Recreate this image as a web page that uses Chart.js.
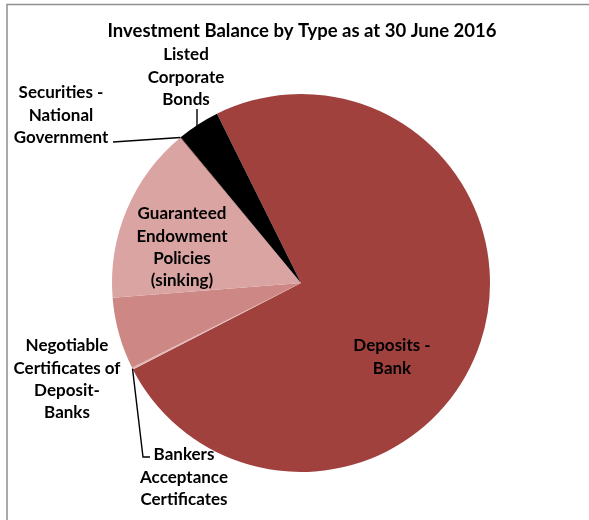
<!DOCTYPE html>
<html>
<head>
<meta charset="utf-8">
<script src="https://cdn.jsdelivr.net/npm/chart.js@4.4.0/dist/chart.umd.min.js"></script>
<style>
  html, body { margin: 0; padding: 0; background: #fff; }
  #wrap { position: relative; width: 589px; height: 520px; }
</style>
</head>
<body>
<div id="wrap"><canvas id="pie" width="589" height="520"></canvas></div>
<script>
// 数据（顺时针，从 Deposits - Bank 开始）
const chartTitle = 'Investment Balance by Type as at 30 June 2016';
const categories = [
    'Deposits - Bank',
    'Bankers Acceptance Certificates',
    'Negotiable Certificates of Deposit-Banks',
    'Guaranteed Endowment Policies (sinking)',
    'Securities - National Government',
    'Listed Corporate Bonds'
];
const balances = [74.7, 0.15, 6.15, 15.2, 0.05, 3.65];
const sliceColors = ['#A0413E', '#E2B9B7', '#CD8886', '#D9A4A2', '#8B3532', '#000000'];

// 标签文字（分行）与位置
const labelLines = [
    ['Deposits -', 'Bank'],
    ['Bankers', 'Acceptance', 'Certificates'],
    ['Negotiable', 'Certificates of', 'Deposit-', 'Banks'],
    ['Guaranteed', 'Endowment', 'Policies', '(sinking)'],
    ['Securities -', 'National', 'Government'],
    ['Listed', 'Corporate', 'Bonds']
];
const labelPos = [
    { x: 392, y: 346 },
    { x: 184, y: 455 },
    { x: 67, y: 346 },
    { x: 182, y: 214 },
    { x: 61, y: 93 },
    { x: 186, y: 55 }
];
// 引线：起点在标签旁，终点在扇区外缘
const leaders = {
    1: { pts: [{ x: 150, y: 457 }, { x: 143, y: 457 }] },
    4: { pts: [{ x: 113, y: 142 }] },
    5: { down: { x: 197, y: 109 } }
};

const FONT = 'bold 17px Lato, "Open Sans", sans-serif';
const LINE_H = 22.3;

// 自定义绘制插件：边框、标题、标签、引线
const labelPlugin = {
    id: 'pieLabels',
    beforeDraw(chart) {
        const ctx = chart.ctx;
        ctx.save();
        ctx.strokeStyle = '#8f8f8f';
        ctx.lineWidth = 1.5;
        ctx.beginPath();
        ctx.moveTo(7, 520);
        ctx.lineTo(7, 4.5);
        ctx.lineTo(589, 4.5);
        ctx.stroke();
        ctx.restore();
    },
    afterDraw(chart) {
        const ctx = chart.ctx;
        const arcs = chart.getDatasetMeta(0).data;
        ctx.save();
        ctx.fillStyle = '#000';
        ctx.textAlign = 'center';
        ctx.textBaseline = 'middle';

        ctx.font = 'bold 18.5px Lato, "Open Sans", sans-serif';
        ctx.fillText(chartTitle, 302, 31);

        ctx.font = FONT;
        labelLines.forEach((lines, i) => {
            lines.forEach((t, j) => {
                ctx.fillText(t, labelPos[i].x, labelPos[i].y + j * LINE_H);
            });
        });

        // 引线
        ctx.strokeStyle = '#000';
        ctx.lineWidth = 1.4;
        Object.keys(leaders).forEach(k => {
            const arc = arcs[k];
            const ld = leaders[k];
            ctx.beginPath();
            if (ld.down) {
                // 竖直线，落到扇区外缘
                const ey = arc.y - Math.sqrt(arc.outerRadius ** 2 - (ld.down.x - arc.x) ** 2);
                ctx.moveTo(ld.down.x, ld.down.y);
                ctx.lineTo(ld.down.x, ey + 2);
            } else {
                const mid = (arc.startAngle + arc.endAngle) / 2;
                const ex = arc.x + Math.cos(mid) * arc.outerRadius;
                const ey = arc.y + Math.sin(mid) * arc.outerRadius;
                ctx.moveTo(ld.pts[0].x, ld.pts[0].y);
                for (let p = 1; p < ld.pts.length; p++) ctx.lineTo(ld.pts[p].x, ld.pts[p].y);
                ctx.lineTo(ex, ey);
            }
            ctx.stroke();
        });
        ctx.restore();
    }
};

new Chart(document.getElementById('pie').getContext('2d'), {
    type: 'pie',
    data: {
        labels: categories,
        datasets: [{
            data: balances,
            backgroundColor: sliceColors,
            borderWidth: 0
        }]
    },
    options: {
        responsive: false,
        animation: false,
        rotation: -26.4,
        layout: { padding: { top: 94, bottom: 48, left: 112, right: 99 } },
        plugins: {
            legend: { display: false },
            title: { display: false },
            tooltip: { enabled: false }
        }
    },
    plugins: [labelPlugin]
});
</script>
</body>
</html>
